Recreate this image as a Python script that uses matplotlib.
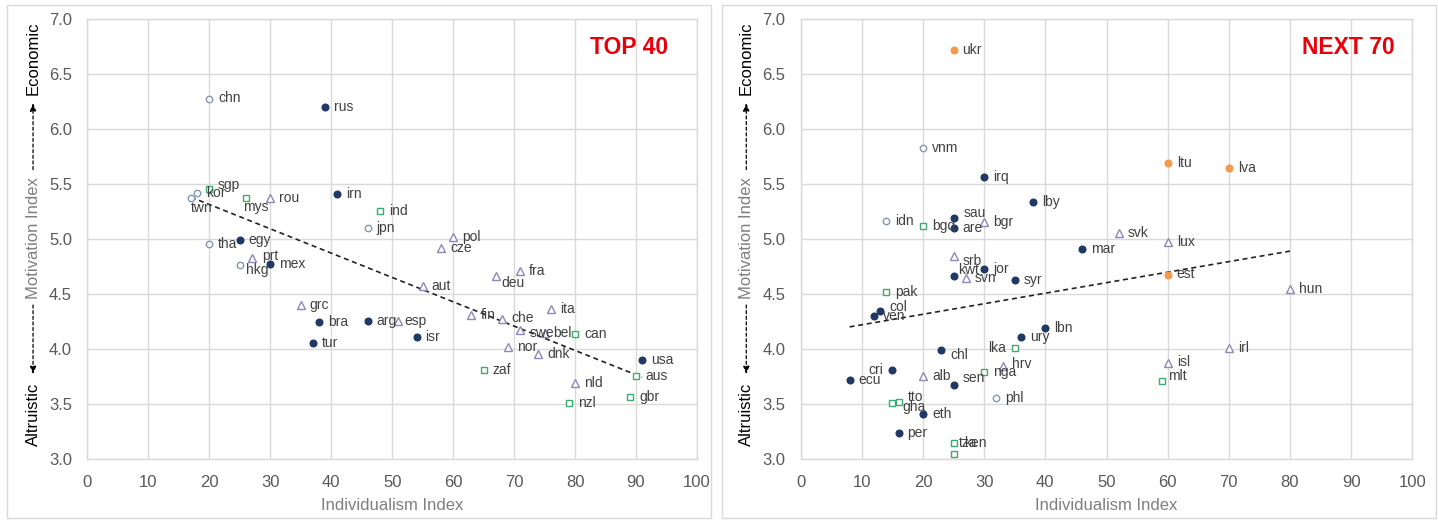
import numpy as np
import matplotlib

matplotlib.use('Agg')
import matplotlib.pyplot as plt
from matplotlib.patches import Rectangle

plt.rcParams['font.family'] = ['Liberation Sans Narrow', 'Liberation Sans', 'DejaVu Sans']

# --- TOP 40 countries ---
top_codes = ["chn", "rus", "sgp", "kor", "twn", "mys", "rou", "irn", "ind", "jpn",
             "pol", "cze", "tha", "egy", "prt", "hkg", "mex", "grc", "bra", "tur",
             "aut", "deu", "fra", "ita", "arg", "esp", "isr", "fin", "che", "swe",
             "bel", "can", "nor", "dnk", "usa", "aus", "zaf", "nld", "gbr", "nzl"]
top_indiv = [20, 39, 20, 18, 17, 26, 30, 41, 48, 46,
             60, 58, 20, 25, 27, 25, 30, 35, 38, 37,
             55, 67, 71, 76, 46, 51, 54, 63, 68, 71,
             75, 80, 69, 74, 91, 90, 65, 80, 89, 79]
top_motiv = [6.28, 6.20, 5.46, 5.42, 5.38, 5.38, 5.38, 5.41, 5.26, 5.10,
             5.02, 4.92, 4.96, 4.99, 4.83, 4.77, 4.78, 4.40, 4.25, 4.06,
             4.58, 4.67, 4.71, 4.37, 4.26, 4.26, 4.11, 4.31, 4.28, 4.18,
             4.15, 4.14, 4.02, 3.96, 3.90, 3.76, 3.81, 3.69, 3.57, 3.51]
top_group = ["asia", "navy", "common", "asia", "asia", "common", "euro", "navy", "common", "asia",
             "euro", "euro", "asia", "navy", "euro", "asia", "navy", "euro", "navy", "navy",
             "euro", "euro", "euro", "euro", "navy", "euro", "navy", "euro", "euro", "euro",
             "euro", "common", "euro", "euro", "navy", "common", "common", "euro", "common", "common"]

# --- NEXT 70 countries (those inside the plotted range) ---
next_codes = ["ukr", "vnm", "irq", "lby", "idn", "bgd", "sau", "are", "bgr", "srb",
              "kwt", "jor", "svn", "syr", "pak", "col", "ven", "lbn", "ury", "lka",
              "chl", "cri", "ecu", "alb", "hrv", "nga", "sen", "phl", "tto", "gha",
              "eth", "per", "tza", "ken", "ltu", "lva", "svk", "lux", "mar", "est",
              "hun", "irl", "isl", "mlt"]
next_indiv = [25, 20, 30, 38, 14, 20, 25, 25, 30, 25,
              25, 30, 27, 35, 14, 13, 12, 40, 36, 35,
              23, 15, 8, 20, 33, 30, 25, 32, 16, 15,
              20, 16, 25, 25, 60, 70, 52, 60, 46, 60,
              80, 70, 60, 59]
next_motiv = [6.72, 5.83, 5.57, 5.34, 5.17, 5.12, 5.19, 5.10, 5.16, 4.85,
              4.67, 4.73, 4.65, 4.63, 4.52, 4.35, 4.30, 4.19, 4.11, 4.01,
              3.99, 3.81, 3.72, 3.76, 3.85, 3.79, 3.68, 3.56, 3.52, 3.51,
              3.41, 3.24, 3.15, 3.05, 5.69, 5.65, 5.06, 4.98, 4.91, 4.68,
              4.55, 4.01, 3.88, 3.71]
next_group = ["baltic", "asia", "navy", "navy", "asia", "common", "navy", "navy", "euro", "euro",
              "navy", "navy", "euro", "navy", "common", "navy", "navy", "navy", "navy", "common",
              "navy", "navy", "navy", "euro", "euro", "common", "navy", "asia", "common", "common",
              "navy", "navy", "common", "common", "baltic", "baltic", "euro", "euro", "navy", "baltic",
              "euro", "euro", "euro", "common"]

# marker style per group
styles = {
    "navy":   dict(marker='o', ms=5.0, mfc='#1f3864', mec='#1f3864', mew=0.8),
    "asia":   dict(marker='o', ms=4.6, mfc='white', mec='#8497b0', mew=1.0),
    "common": dict(marker='s', ms=4.4, mfc='white', mec='#3daa72', mew=1.0),
    "euro":   dict(marker='^', ms=5.2, mfc='white', mec='#8e88b8', mew=1.0),
    "baltic": dict(marker='o', ms=5.0, mfc='#f39a4e', mec='#f39a4e', mew=0.8),
}

# label nudges in pixels (dx, dy, ha); default sits just right of the marker
default_off = (9, 0, 'left')
top_offsets = {
    "sgp": (8, 4, 'left'), "twn": (0, -10, 'left'), "mys": (-3, -10, 'left'),
    "prt": (10, 2, 'left'), "hkg": (6, -5, 'left'), "deu": (6, -7, 'left'),
    "esp": (6, 0, 'left'), "swe": (9, -3, 'left'),
}
next_offsets = {
    "sau": (10, 5, 'left'), "srb": (9, -5, 'left'), "kwt": (5, 6, 'left'),
    "col": (9, 4, 'left'), "lka": (-9, 0, 'right'), "chl": (9, -5, 'left'),
    "cri": (-9, 0, 'right'), "sen": (9, 6, 'left'), "hrv": (9, 2, 'left'),
    "tto": (9, 5, 'left'), "gha": (10, -4, 'left'), "tza": (5, 0, 'left'),
    "ken": (11, 11, 'left'), "mlt": (7, 5, 'left'),
}

fig = plt.figure(figsize=(14.38, 5.21), dpi=100)

# light frames around each chart
for x0, x1 in [(7, 711), (722, 1436)]:
    fig.patches.append(Rectangle((x0 / 1438, 3 / 521), (x1 - x0) / 1438, 513 / 521,
                                 transform=fig.transFigure, fill=False,
                                 edgecolor='#d9d9d9', linewidth=1.0))


def draw_panel(ax, codes, xs, ys, groups, offsets, title, title_x):
    xs = np.array(xs, dtype=float)
    ys = np.array(ys, dtype=float)

    for code, x, y, g in zip(codes, xs, ys, groups):
        ax.plot([x], [y], linestyle='none', zorder=3, **styles[g])
        dx, dy, ha = offsets.get(code, default_off)
        ax.annotate(code, (x, y), xytext=(dx, dy), textcoords='offset pixels',
                    ha=ha, va='center', fontsize=10, color='#404040', zorder=4)

    # linear trend over the plotted countries
    k, b = np.polyfit(xs, ys, 1)
    tx = np.array([xs.min(), xs.max()])
    ax.plot(tx, k * tx + b, color='#222222', linestyle=(0, (3, 2.2)), linewidth=1.2, zorder=2)

    ax.set_xlim(0, 100)
    ax.set_ylim(3.0, 7.0)
    ax.set_xticks(np.arange(0, 101, 10))
    ax.set_yticks(np.arange(3.0, 7.01, 0.5))
    ax.set_yticklabels([f"{v:.1f}" for v in np.arange(3.0, 7.01, 0.5)])
    ax.grid(True, color='#d9d9d9', linewidth=1.0)
    ax.set_axisbelow(True)
    for s in ax.spines.values():
        s.set_color('#d9d9d9')
        s.set_linewidth(1.0)
    ax.tick_params(length=0, labelsize=12, labelcolor='#595959', pad=11)
    ax.set_xlabel("Individualism Index", fontsize=12, color='#7f7f7f', labelpad=6)

    ax.text(title_x, 0.935, title, transform=ax.transAxes, ha='center', va='center',
            fontsize=16.5, fontweight='bold', color='#e8000b')

    # y-axis caption with direction arrows
    lx = -0.089
    ax.text(lx, 0.912, "Economic", transform=ax.transAxes, rotation=90,
            ha='center', va='center', fontsize=12, color='black')
    ax.text(lx, 0.503, "Motivation Index", transform=ax.transAxes, rotation=90,
            ha='center', va='center', fontsize=12, color='#7f7f7f')
    ax.text(lx, 0.102, "Altruistic", transform=ax.transAxes, rotation=90,
            ha='center', va='center', fontsize=12, color='black')
    arrow = dict(arrowstyle='-|>,head_length=0.45,head_width=0.18', color='black',
                 linewidth=0.9, linestyle=(0, (2.5, 2)))
    ax.annotate('', xy=(lx, 0.816), xytext=(lx, 0.652), xycoords='axes fraction',
                textcoords='axes fraction', arrowprops=arrow, annotation_clip=False)
    ax.annotate('', xy=(lx, 0.187), xytext=(lx, 0.357), xycoords='axes fraction',
                textcoords='axes fraction', arrowprops=arrow, annotation_clip=False)


ax1 = fig.add_axes([87.3 / 1438, 61.7 / 521, 609.7 / 1438, 440 / 521])
ax2 = fig.add_axes([800.7 / 1438, 61.7 / 521, 611.6 / 1438, 440 / 521])

draw_panel(ax1, top_codes, top_indiv, top_motiv, top_group, top_offsets, "TOP 40", 0.888)
draw_panel(ax2, next_codes, next_indiv, next_motiv, next_group, next_offsets, "NEXT 70", 0.896)

fig.savefig("out.png", dpi=100)
plt.close(fig)
